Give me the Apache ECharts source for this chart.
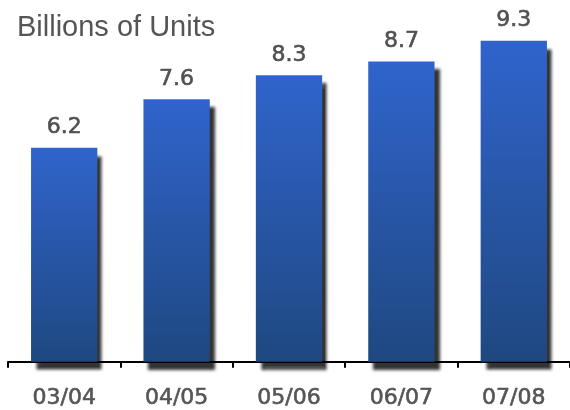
<!DOCTYPE html>
<html>
<head>
<meta charset="utf-8">
<script src="https://cdn.jsdelivr.net/npm/echarts@6/dist/echarts.min.js"></script>
<style>
  html, body { margin: 0; padding: 0; background: #ffffff; }
  #chart { width: 570px; height: 410px; }
</style>
</head>
<body>
<div id="chart"></div>
<script>
// Fiscal years and annual volume, in billions of units
const years = ['03/04', '04/05', '05/06', '06/07', '07/08'];
const units = [6.2, 7.6, 8.3, 8.7, 9.3];

const chart = echarts.init(document.getElementById('chart'), null, { renderer: 'canvas' });

const barFill = new echarts.graphic.LinearGradient(0, 0, 0, 1, [
  { offset: 0, color: '#3064cc' },
  { offset: 1, color: '#1f4880' }
]);

chart.setOption({
  animation: false,
  title: {
    text: 'Billions of Units',
    left: 12,
    top: 8,
    textStyle: {
      fontFamily: 'Liberation Sans, Arial, sans-serif',
      fontSize: 29,
      fontWeight: 'normal',
      color: '#555555'
    }
  },
  grid: { left: 8, right: -6, top: 16.5, bottom: 45.5, containLabel: false },
  xAxis: {
    type: 'category',
    data: years,
    axisLine: { show: true, lineStyle: { color: '#000000', width: 2 } },
    axisTick: { show: true, length: 6, lineStyle: { color: '#000000', width: 2 } },
    axisLabel: {
      margin: 26,
      fontFamily: 'DejaVu Sans, Verdana, sans-serif',
      fontSize: 22,
      color: '#555555',
      textBorderColor: '#555555',
      textBorderWidth: 0.6
    }
  },
  yAxis: {
    type: 'value',
    min: 0,
    max: 10,
    show: false,
    splitLine: { show: false }
  },
  series: [{
    type: 'bar',
    data: units,
    barWidth: '59%',
    itemStyle: {
      color: barFill,
      shadowColor: 'rgba(0,0,0,0.8)',
      shadowBlur: 3,
      shadowOffsetX: 5,
      shadowOffsetY: 8
    },
    label: {
      show: true,
      position: 'top',
      distance: 9,
      fontFamily: 'DejaVu Sans, Verdana, sans-serif',
      fontSize: 22,
      color: '#505050',
      textBorderColor: '#505050',
      textBorderWidth: 0.6,
      formatter: p => p.value.toFixed(1)
    }
  }]
});
</script>
</body>
</html>
